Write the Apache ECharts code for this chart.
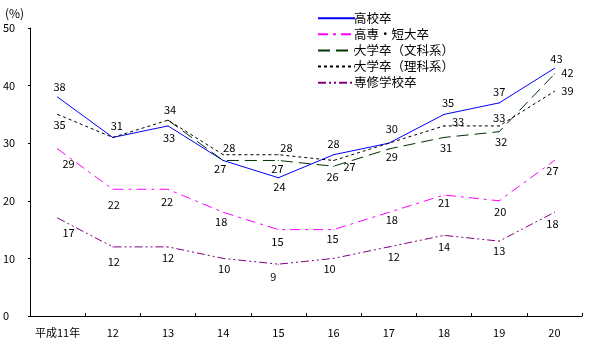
<!DOCTYPE html>
<html><head><meta charset="utf-8">
<script src="https://cdn.jsdelivr.net/npm/echarts@6/dist/echarts.min.js"></script>
<style>html,body{margin:0;padding:0;background:#fff}#c{width:589px;height:339px}</style>
</head><body><div id="c"></div>
<script>
const categories = ['平成11年','12','13','14','15','16','17','18','19','20'];
const seriesNames = ['高校卒','高専・短大卒','大学卒（文科系）','大学卒（理科系）','専修学校卒'];
const kosotsu = [38,31,33,27,24,28,30,35,37,43];
const tandai  = [29,22,22,18,15,15,18,21,20,27];
const bunkei  = [null,null,34,27,27,26,29,31,32,42];
const rikei   = [35,31,34,28,28,27,30,33,33,39];
const senshu  = [17,12,12,10,9,10,12,14,13,18];
const yTicks = [0,10,20,30,40,50];

// label offsets (dx, dy) from each point; null = no label
const offKosotsu = [[2,-10],[4,-12],[1,12],[-3,8],[1,9],[0,-11],[3,-14],[4,-12],[0,-11],[2,-10]];
const offTandai  = [[11,15],[1,16],[-1,13],[-2,9],[-1,12],[-1,9],[3,7],[0,8],[1,11],[-2,10]];
const offBunkei  = [null,null,null,null,[-1,8],[-1,11],[3,8],[2,10],[2,10],[13,-1]];
const offRikei   = [[2,10],null,[2,-10],[6,-7],[8,-7],[16,6],null,[14,-4],[0,-8],[13,-1]];
const offSenshu  = [[11,15],[1,15],[0,11],[1,10],[-5,13],[-4,10],[5,10],[0,11],[0,10],[-2,11]];

const FONT = "'Noto Sans CJK JP', sans-serif";

function build(values, offs){
  return values.map((v,i)=>({
    value: v === null ? '-' : v,
    label: offs[i] ? {show:true, offset: offs[i]} : {show:false}
  }));
}
function mk(name, values, offs, color, type){
  return {
    name, type:'line', data: build(values, offs),
    symbol:'circle', symbolSize:1,
    itemStyle:{color},
    lineStyle:{color, width:1, type},
    label:{show:true, position:'inside', color:'#000', fontSize:11, fontFamily:FONT},
    emphasis:{disabled:true}, silent:true, z: 2
  };
}
const chart = echarts.init(document.getElementById('c'));
chart.setOption({
  animation:false,
  backgroundColor:'#fff',
  grid:{left:29, right:7, top:28, bottom:23, containLabel:false},
  legend:{
    orient:'vertical', left:312, top:7, itemWidth:37, itemHeight:14, itemGap:3.6,
    textStyle:{fontSize:12.5, fontFamily:FONT, color:'#000', padding:[0,0,0,-6]},
    itemStyle:{opacity:0},
    data: seriesNames
  },
  graphic:[{type:'text', left:5, top:7, style:{text:'(%)', font:"12px "+FONT, fill:'#000'}}],
  xAxis:{
    type:'category', data:categories, boundaryGap:true,
    axisLine:{lineStyle:{color:'#000', width:1}},
    axisTick:{show:true, inside:true, length:3, lineStyle:{color:'#000'}},
    axisLabel:{interval:0, margin:11, fontSize:11, fontFamily:FONT, color:'#000'}
  },
  yAxis:{
    type:'value', min:yTicks[0], max:yTicks[yTicks.length-1], interval:10,
    splitLine:{show:false},
    axisLine:{show:true, lineStyle:{color:'#000', width:1}},
    axisTick:{show:true, length:2, lineStyle:{color:'#000'}},
    axisLabel:{align:'left', margin:27, fontSize:11, fontFamily:FONT, color:'#000'}
  },
  series:[
    mk(seriesNames[0], kosotsu, offKosotsu, '#0000FF', 'solid'),
    mk(seriesNames[1], tandai, offTandai, '#FF00FF', [10,5,3,5]),
    mk(seriesNames[2], bunkei, offBunkei, '#003300', [12,6]),
    mk(seriesNames[3], rikei, offRikei, '#000000', [3,3]),
    mk(seriesNames[4], senshu, offSenshu, '#800080', [8,3,2,3,2,3])
  ]
});
</script></body></html>
